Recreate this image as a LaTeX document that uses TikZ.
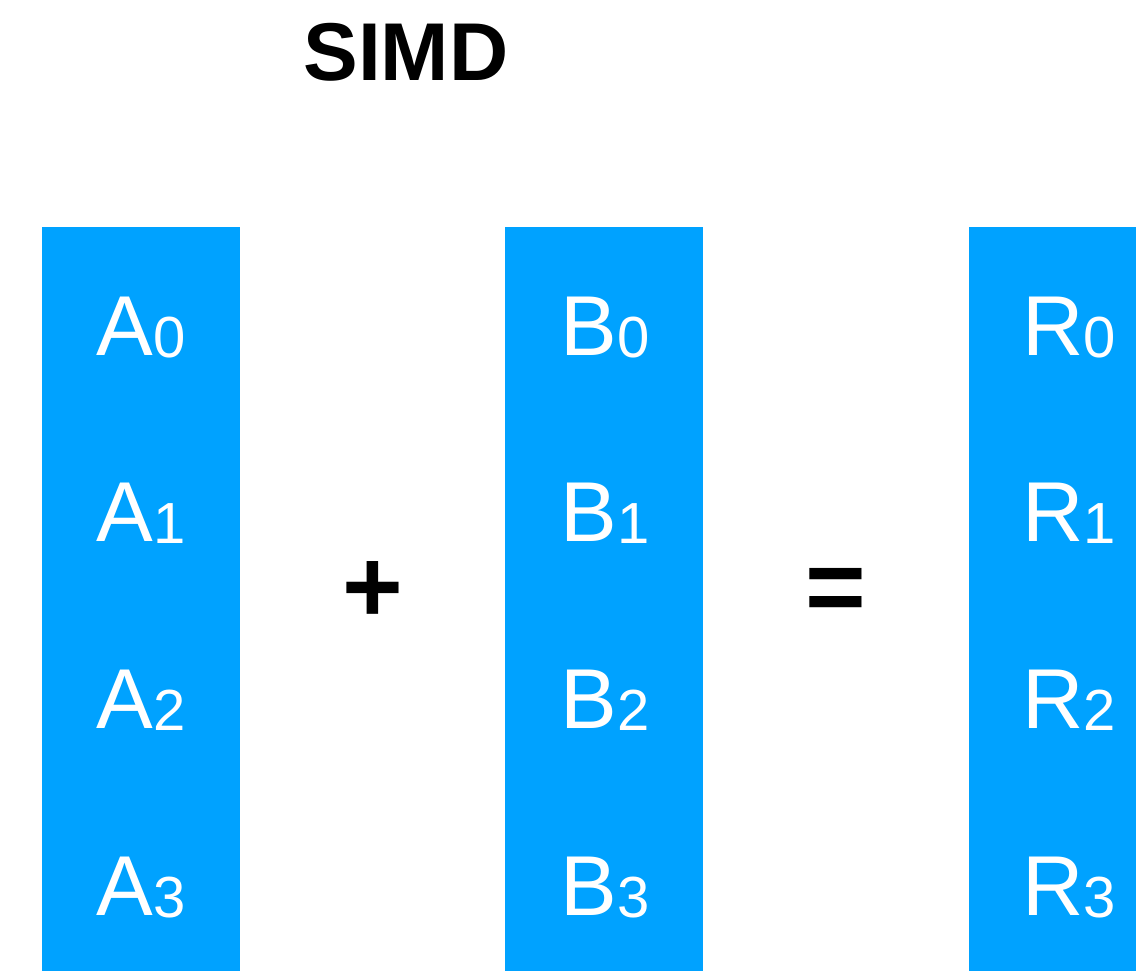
\documentclass[tikz,border=0pt]{standalone}
\usepackage{fontspec}
\setmainfont{Liberation Sans}
\definecolor{simdblue}{RGB}{0,162,255}
\tikzset{
  col/.style={fill=simdblue, draw=none, inner sep=0pt, minimum width=198pt, minimum height=760pt, anchor=north},
  lbl/.style={text=white, inner sep=0pt, anchor=base, font=\fontsize{85}{85}\selectfont},
  op/.style={text=black, inner sep=0pt, anchor=base, font=\fontsize{104}{104}\selectfont\bfseries},
  ttl/.style={text=black, inner sep=0pt, anchor=base, font=\fontsize{82}{82}\selectfont\bfseries}
}
\newcommand{\lane}[2]{#1{\fontsize{58}{58}\selectfont\raisebox{-2pt}{#2}}}
\begin{document}
\begin{tikzpicture}[x=1pt,y=-1pt]
\useasboundingbox (0,0) rectangle (1136,971);
\clip (0,0) rectangle (1136,971);
\node[ttl] (title) at (406,81) {SIMD};
\node[col] (colA) at (141,227) {};
\node[col] (colB) at (604,227) {};
\node[col] (colR) at (1068,227) {};
\foreach \i/\y in {0/355,1/541.7,2/728.3,3/915}{
  \node[lbl] (a\i) at (141,\y) {\lane{A}{\i}};
  \node[lbl] (b\i) at (605,\y) {\lane{B}{\i}};
  \node[lbl] (r\i) at (1069,\y) {\lane{R}{\i}};
}
\node[op] (plus) at (373,622) {+};
\node[op] (eq) at (836,622) {=};
\end{tikzpicture}
\end{document}
